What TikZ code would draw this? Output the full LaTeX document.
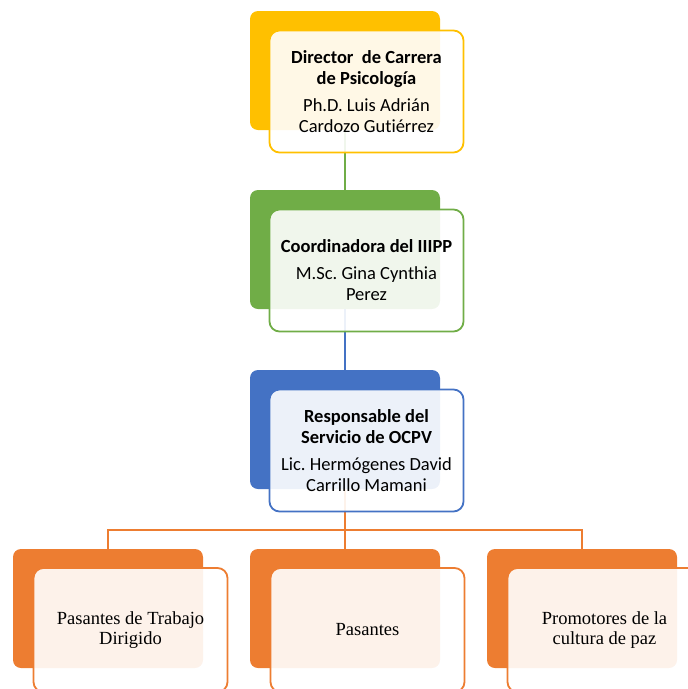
\documentclass[tikz,border=0pt]{standalone}
\usepackage{fontspec}
\setmainfont{Carlito}[Ligatures=NoCommon]
\newfontfamily\tnr{Liberation Serif}
\frenchspacing
\definecolor{cyel}{HTML}{FFC000}
\definecolor{cgrn}{HTML}{70AD47}
\definecolor{cblu}{HTML}{4472C4}
\definecolor{corg}{HTML}{ED7D31}
\tikzset{
  backbox/.style={rounded corners=8pt, minimum width=190pt, minimum height=119pt, inner sep=0pt, outer sep=0pt, fill=#1},
  frontbox/.style={rounded corners=10pt, draw=#1, line width=1.8pt, fill=white, fill opacity=0.9, text opacity=1,
    minimum width=194pt, minimum height=122pt, align=center, inner sep=0pt, outer sep=0pt,
    font=\fontsize{18.5}{21.5}\selectfont},
  lowtext/.style={font=\tnr\fontsize{18.5}{19.5}\selectfont, minimum height=124pt},
  conn/.style={line width=1.8pt, draw=#1},
}
\begin{document}
\begin{tikzpicture}[x=1pt,y=-1pt]
\useasboundingbox (0,0) rectangle (688,689);
\clip (0,0) rectangle (688,689);
% back boxes
\node[backbox=cyel] (dirb) at (345,70.5) {};
\node[backbox=cgrn] (coob) at (345,249.5) {};
\node[backbox=cblu] (resb) at (345,429.5) {};
\node[backbox=corg] (p1b) at (108,608.5) {};
\node[backbox=corg] (p2b) at (345,608.5) {};
\node[backbox=corg] (p3b) at (582,608.5) {};
% connectors
\coordinate (bus) at (345,530);
\draw[conn=cgrn] (dirb.south) -- (coob.north);
\draw[conn=cblu] (coob.south) -- (resb.north);
\draw[conn=corg] (resb.south) -- (bus);
\draw[conn=corg] (bus) -| (p1b.north);
\draw[conn=corg] (bus) -| (p3b.north);
\draw[conn=corg] (bus) -- (p2b.north);
% front boxes
\node[frontbox=cyel] (dirf) at (366.5,91.5)
  {\textbf{Director\ \ de Carrera}\\ \textbf{de Psicología}\\[5pt] Ph.D. Luis Adrián\\ Cardozo Gutiérrez};
\node[frontbox=cgrn] (coof) at (366.5,270.5)
  {\textbf{Coordinadora del IIIPP}\\[5pt] M.Sc. Gina Cynthia\\ Perez};
\node[frontbox=cblu] (resf) at (366.5,450.5)
  {\textbf{Responsable del}\\ \textbf{Servicio de OCPV}\\[5pt] Lic. Hermógenes David\\ Carrillo Mamani};
\node[frontbox=corg, lowtext] (p1f) at (130.5,630)
  {Pasantes de Trabajo\\ Dirigido};
\node[frontbox=corg, lowtext] (p2f) at (367.5,630)
  {Pasantes};
\node[frontbox=corg, lowtext] (p3f) at (604.5,630)
  {Promotores de la\\ cultura de paz};
\end{tikzpicture}
\end{document}
